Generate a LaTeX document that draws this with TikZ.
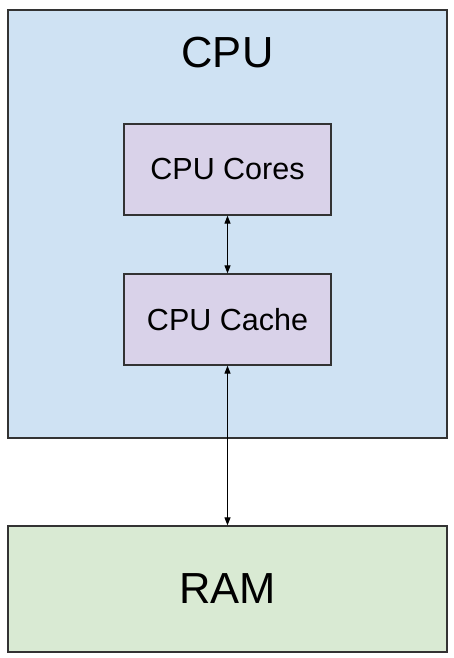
\documentclass[tikz,border=0pt]{standalone}
\usepackage{fontspec}
\setmainfont{Liberation Sans}
\usetikzlibrary{arrows.meta}
\definecolor{cpublue}{HTML}{CFE2F3}
\definecolor{corepurple}{HTML}{D9D2E9}
\definecolor{ramgreen}{HTML}{D9EAD3}
\definecolor{edge}{HTML}{333333}
\begin{document}
\begin{tikzpicture}[x=1pt,y=-1pt,
  box/.style={draw=edge,line width=1.3pt,inner sep=0pt},
  link/.style={line width=1.1pt,{Triangle[length=8pt,width=6pt]}-{Triangle[length=8pt,width=6pt]}}]
\useasboundingbox (0,0) rectangle (454,658);
\node[box,fill=cpublue,minimum width=439pt,minimum height=428pt] (cpu) at (227.5,224) {};
\node (cputitle) at (227.5,53) {\fontsize{43.5}{50}\selectfont CPU};
\node[box,fill=corepurple,minimum width=207pt,minimum height=91pt] (cores) at (227.5,169.5) {\raisebox{-1.5pt}{\fontsize{30.5}{36}\selectfont CPU Cores}};
\node[box,fill=corepurple,minimum width=207pt,minimum height=91pt] (cache) at (227.5,319.5) {\fontsize{30.5}{36}\selectfont CPU Cache};
\node[box,fill=ramgreen,minimum width=439pt,minimum height=126pt] (ram) at (227.5,589) {\fontsize{43.5}{50}\selectfont RAM};
\draw[link] (cores.south) -- (cache.north);
\draw[link] (cache.south) -- (ram.north);
\end{tikzpicture}
\end{document}
